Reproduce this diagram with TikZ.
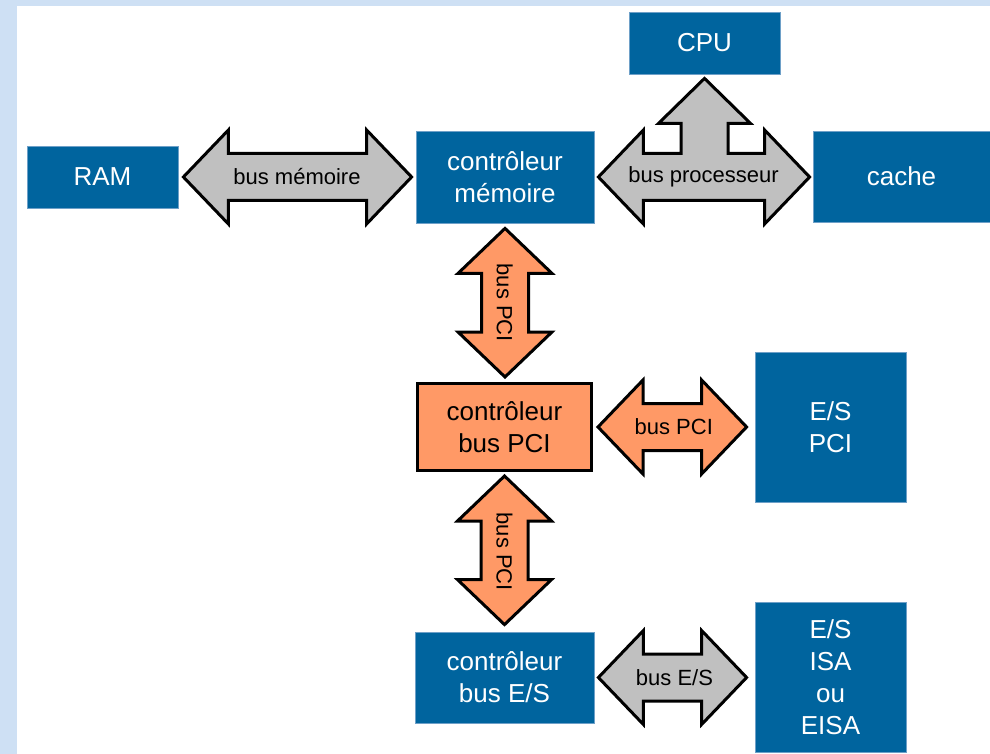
\documentclass[tikz,border=0pt]{standalone}
\usepackage{fontspec}
\setmainfont{Liberation Sans}
\usetikzlibrary{calc}

\definecolor{boxblue}{RGB}{0,100,158}
\definecolor{boxedge}{RGB}{110,160,200}
\definecolor{busgray}{RGB}{192,192,192}
\definecolor{busorange}{RGB}{255,153,102}
\definecolor{pagebg}{RGB}{206,224,244}

\tikzset{
  unit/.style={rectangle, fill=boxblue, draw=boxedge, line width=0.8pt,
    text=white, align=center, inner sep=0pt,
    font=\fontsize{26}{32}\selectfont},
  orangeunit/.style={unit, fill=busorange, draw=black, line width=3pt, text=black},
  busline/.style={draw=black, line width=3pt, line join=miter},
  buslabel/.style={inner sep=0pt, text=black, font=\fontsize{22}{26}\selectfont},
}

% horizontal double-headed block arrow: from, to, label, fill, gap at start, gap at end
\newcommand\hbus[6]{%
  \draw[busline,fill=#4] let \p1=($(#1.east)+(#5,0)$), \p2=($(#2.west)-(#6,0)$) in
    (\x1,\y1) -- ++(45pt,47pt) -- ++(0pt,-23.5pt) -- (\x2-45pt,\y1+23.5pt)
    -- ++(0pt,23.5pt) -- (\x2,\y1) -- ++(-45pt,-47pt) -- ++(0pt,23.5pt)
    -- (\x1+45pt,\y1-23.5pt) -- ++(0pt,-23.5pt) -- cycle;
  \node[buslabel] at ($(#1.east)!.5!(#2.west)$) {#3};
}
% vertical double-headed block arrow
\newcommand\vbus[6]{%
  \draw[busline,fill=#4] let \p1=($(#1.south)+(0,#5)$), \p2=($(#2.north)-(0,#6)$) in
    (\x1,\y1) -- ++(47pt,-45pt) -- ++(-23.5pt,0pt) -- (\x1+23.5pt,\y2+45pt)
    -- ++(23.5pt,0pt) -- (\x1,\y2) -- ++(-47pt,45pt) -- ++(23.5pt,0pt)
    -- (\x1-23.5pt,\y1-45pt) -- ++(-23.5pt,0pt) -- cycle;
  \node[buslabel,rotate=-90] at ($(#1.south)!.5!(#2.north)$) {#3};
}

\begin{document}
\begin{tikzpicture}[x=1pt,y=-1pt]
  \useasboundingbox (0,0) rectangle (990,754);
  \fill[pagebg] (0,0) rectangle (990,754);
  \fill[white] (17,6) rectangle (990,754);

  % units
  \node[unit, minimum width=151pt, minimum height=62pt] (ram)   at (102.5,177)  {RAM};
  \node[unit, minimum width=178pt, minimum height=92pt] (mctl)  at (505,177)    {contrôleur\\mémoire};
  \node[unit, minimum width=151pt, minimum height=62pt] (cpu)   at (704.5,43)   {CPU};
  \node[unit, minimum width=177pt, minimum height=91pt] (cache) at (901.5,176.5) {cache};
  \node[orangeunit, minimum width=174pt, minimum height=87pt] (pctl) at (504.5,427) {contrôleur\\bus PCI};
  \node[unit, minimum width=151pt, minimum height=150pt] (iopci) at (830.5,427) {E/S\\PCI};
  \node[unit, minimum width=179pt, minimum height=91pt] (ioctl) at (504.5,677.5) {contrôleur\\bus E/S};
  \node[unit, minimum width=151pt, minimum height=150pt] (ioisa) at (830.5,677) {E/S\\ISA\\ou\\EISA};

  % buses
  \hbus{ram}{mctl}{bus mémoire}{busgray}{5}{4}
  \hbus{pctl}{iopci}{bus PCI}{busorange}{5}{8}
  \hbus{ioctl}{ioisa}{bus E/S}{busgray}{4}{8}
  \vbus{mctl}{pctl}{bus PCI}{busorange}{5}{5}
  \vbus{pctl}{ioctl}{bus PCI}{busorange}{4}{7}

  % processor bus: three-way arrow between controller, cache and CPU
  \draw[busline,fill=busgray]
    let \p1=($(mctl.east)+(4,0)$), \p2=($(cache.west)-(3,0)$), \p3=($(cpu.south)+(0,4)$) in
    (\x1,\y1) -- ++(45pt,47pt) -- ++(0pt,-23.5pt) -- (\x3-23.5pt,\y1+23.5pt)
    -- (\x3-23.5pt,\y3-45pt) -- ++(-22.5pt,0pt) -- (\x3,\y3) -- ++(46pt,-45pt)
    -- ++(-22.5pt,0pt) -- (\x3+23.5pt,\y1+23.5pt) -- (\x2-45pt,\y1+23.5pt)
    -- ++(0pt,23.5pt) -- (\x2,\y1) -- ++(-45pt,-47pt) -- ++(0pt,23.5pt)
    -- (\x1+45pt,\y1-23.5pt) -- ++(0pt,-23.5pt) -- cycle;
  \node[buslabel] (procbus) at ($(mctl.east)!.5!(cache.west)$) {bus processeur};
\end{tikzpicture}
\end{document}
